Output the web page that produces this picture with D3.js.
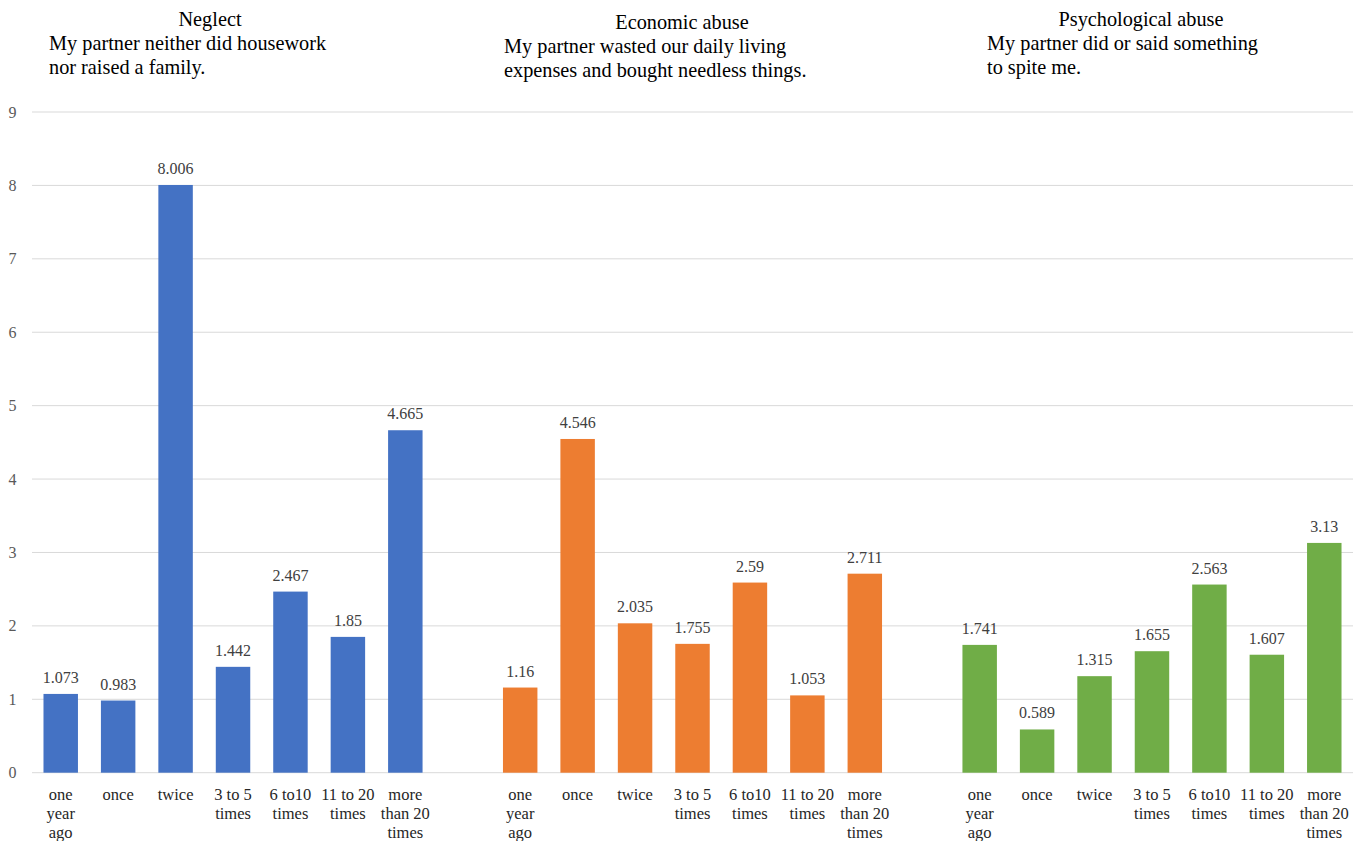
<!DOCTYPE html>
<html><head><meta charset="utf-8">
<script src="https://cdn.jsdelivr.net/npm/d3@7"></script>
<style>body{margin:0;background:#fff}svg{display:block}</style>
</head><body><svg id="c" width="1362" height="841" font-family="'Liberation Serif', 'DejaVu Serif', serif"></svg>
<script>
const categories = ["one year ago","once","twice","3 to 5 times","6 to10 times","11 to 20 times","more than 20 times"];
const categoryLines = [["one","year","ago"],["once"],["twice"],["3 to 5","times"],["6 to10","times"],["11 to 20","times"],["more","than 20","times"]];
const neglect = [1.073,0.983,8.006,1.442,2.467,1.85,4.665];
const economic = [1.16,4.546,2.035,1.755,2.59,1.053,2.711];
const psychological = [1.741,0.589,1.315,1.655,2.563,1.607,3.13];
const groupTitles = [
  ["Neglect","My partner neither did housework","nor raised a family."],
  ["Economic abuse","My partner wasted our daily living","expenses and bought needless things."],
  ["Psychological abuse","My partner did or said something","to spite me."]
];
const yTicks = [0,1,2,3,4,5,6,7,8,9];
const colors = ["#4472C4","#ED7D31","#70AD47"];

const series = [neglect, economic, psychological];
const slots = [];
series.forEach((s,g)=>{
  s.forEach((v,i)=>slots.push({key:g+"-"+i,g,i,v}));
  if(g<2) slots.push({key:"gap"+g,g:-1});
});

const svg = d3.select("#c");
const x = d3.scaleBand().domain(slots.map(d=>d.key)).range([32,1353]).paddingInner(0.4).paddingOuter(0.2);
const y = d3.scaleLinear().domain([0,9]).range([772.7,112]);

svg.append("g").selectAll("line").data(yTicks).join("line")
  .attr("x1",32).attr("x2",1353).attr("y1",d=>y(d)).attr("y2",d=>y(d))
  .attr("stroke","#d9d9d9").attr("stroke-width",1);

svg.append("g").selectAll("text").data(yTicks).join("text")
  .attr("x",16.5).attr("y",d=>y(d)+5.5).attr("text-anchor","end")
  .attr("font-size",16).attr("fill","#595959").text(d=>d);

const bars = slots.filter(d=>d.g>=0);
svg.append("g").selectAll("rect").data(bars).join("rect")
  .attr("x",d=>x(d.key)).attr("width",x.bandwidth())
  .attr("y",d=>y(d.v)).attr("height",d=>y(0)-y(d.v))
  .attr("fill",d=>colors[d.g]);

svg.append("g").selectAll("text").data(bars).join("text")
  .attr("x",d=>x(d.key)+x.bandwidth()/2).attr("y",d=>y(d.v)-11)
  .attr("text-anchor","middle").attr("font-size",16).attr("fill","#404040")
  .text(d=>d.v);

const cl = svg.append("g").selectAll("text").data(bars).join("text")
  .attr("text-anchor","middle").attr("font-size",16.5).attr("fill","#262626");
cl.each(function(d){
  const t = d3.select(this);
  categoryLines[d.i].forEach((ln,k)=>{
    t.append("tspan").attr("x",x(d.key)+x.bandwidth()/2).attr("y",799.5+k*19.3).text(ln);
  });
});

const titlePos = [{cx:210,lx:49,y0:19},{cx:682,lx:504,y0:22},{cx:1141,lx:987,y0:19}];
groupTitles.forEach((lines,g)=>{
  const p = titlePos[g];
  svg.append("text").attr("x",p.cx).attr("y",p.y0+7).attr("text-anchor","middle")
    .attr("font-size",20.3).attr("fill","#000").text(lines[0]);
  svg.append("text").attr("x",p.lx).attr("y",p.y0+31).attr("font-size",20.3).attr("fill","#000").text(lines[1]);
  svg.append("text").attr("x",p.lx).attr("y",p.y0+55).attr("font-size",20.3).attr("fill","#000").text(lines[2]);
});
</script></body></html>
